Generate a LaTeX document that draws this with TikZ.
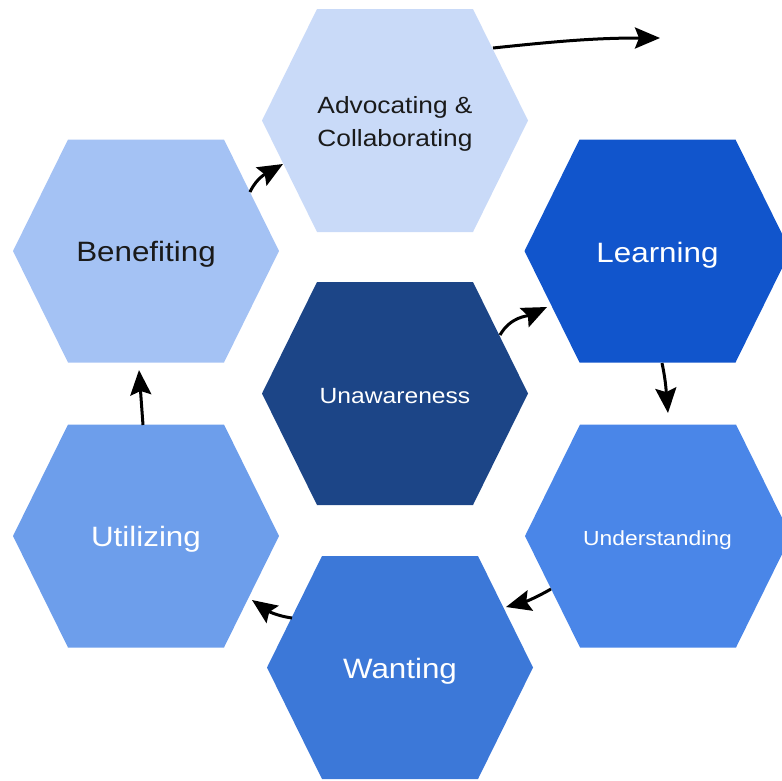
\documentclass[tikz,border=0pt]{standalone}
\usepackage{fontspec}
\setmainfont{Liberation Sans}
\usepackage{graphicx}
\usetikzlibrary{arrows.meta}

% cell fills
\definecolor{cAdvocating}{HTML}{C9DAF8}
\definecolor{cBenefiting}{HTML}{A4C2F4}
\definecolor{cLearning}{HTML}{1155CC}
\definecolor{cUnaware}{HTML}{1C4587}
\definecolor{cUnderstand}{HTML}{4A86E8}
\definecolor{cUtilizing}{HTML}{6D9EEB}
\definecolor{cWanting}{HTML}{3C78D8}
\definecolor{inkdark}{HTML}{1A1A1A}

% labels are set slightly wide
\newcommand\widetext[1]{\scalebox{1.12}[1]{#1}}

\tikzset{
  hexcell/.style={minimum width=266pt, minimum height=223pt, inner sep=0pt, outer sep=0pt,
    path picture={\fill[#1]
      (path picture bounding box.west)
      -- ([xshift=55pt]path picture bounding box.north west)
      -- ([xshift=-55pt]path picture bounding box.north east)
      -- (path picture bounding box.east)
      -- ([xshift=-55pt]path picture bounding box.south east)
      -- ([xshift=55pt]path picture bounding box.south west) -- cycle;}},
  lbl/.style={anchor=base, inner sep=0pt, outer sep=0pt},
  flow/.style={draw=black, line width=3pt,
    -{Stealth[length=25pt, width=21pt, inset=4pt]}},
}

\begin{document}
\begin{tikzpicture}[x=1pt, y=-1pt]
\useasboundingbox (0,0) rectangle (782,780);
\clip (0,0) rectangle (782,780);

% hexagonal cells
\node[hexcell=cAdvocating] (A)  at (395,120.5) {};
\node[hexcell=cBenefiting] (B)  at (146,251)   {};
\node[hexcell=cLearning]   (L)  at (657.5,251) {};
\node[hexcell=cUnaware]    (U)  at (395,393.5) {};
\node[hexcell=cUnderstand] (Un) at (658,536)   {};
\node[hexcell=cUtilizing]  (Ut) at (146,536)   {};
\node[hexcell=cWanting]    (W)  at (400,667.5) {};

% labels
\node[lbl, text=inkdark, font=\fontsize{23.5}{33.4}\selectfont] (tA) at (395,113.3)
  {\widetext{\begin{tabular}[t]{@{}c@{}}Advocating \&\\Collaborating\end{tabular}}};
\node[lbl, text=inkdark, font=\fontsize{28}{33}\selectfont] (tB) at (146,261.7) {\widetext{Benefiting}};
\node[lbl, text=white, font=\fontsize{28}{33}\selectfont] (tL) at (657.5,262.5) {\widetext{Learning}};
\node[lbl, text=white, font=\fontsize{22}{26}\selectfont] (tU) at (395,403.3) {\widetext{Unawareness}};
\node[lbl, text=white, font=\fontsize{20.4}{24}\selectfont] (tUn) at (657.5,545) {\widetext{Understanding}};
\node[lbl, text=white, font=\fontsize{28}{33}\selectfont] (tUt) at (146,546.7) {\widetext{Utilizing}};
\node[lbl, text=white, font=\fontsize{28}{33}\selectfont] (tW) at (400,678) {\widetext{Wanting}};

% exit point of the cycle
\coordinate (exit) at (660,38);

% cycle arrows
\draw[flow] ([shift={(105,-58.5)}]U.center) to[out=60,in=205] ([shift={(-110.5,56)}]L.center);
\draw[flow] ([shift={(4.5,112)}]L.center) to[out=-78,in=95] ([shift={(10,-123)}]Un.center);
\draw[flow] ([shift={(-107,53)}]Un.center) to[out=210,in=15] ([shift={(106,-60.5)}]W.center);
\draw[flow] ([shift={(-108,-49.5)}]W.center) to[out=172,in=-35] ([shift={(106,64)}]Ut.center);
\draw[flow] ([shift={(-3,-111)}]Ut.center) -- ([shift={(-7,119)}]B.center);
\draw[flow] ([shift={(104,-59)}]B.center) to[out=65,in=210] ([shift={(-112,43.5)}]A.center);
\draw[flow] ([shift={(98,-72.5)}]A.center) to[out=6,in=180] (exit);
\end{tikzpicture}
\end{document}
